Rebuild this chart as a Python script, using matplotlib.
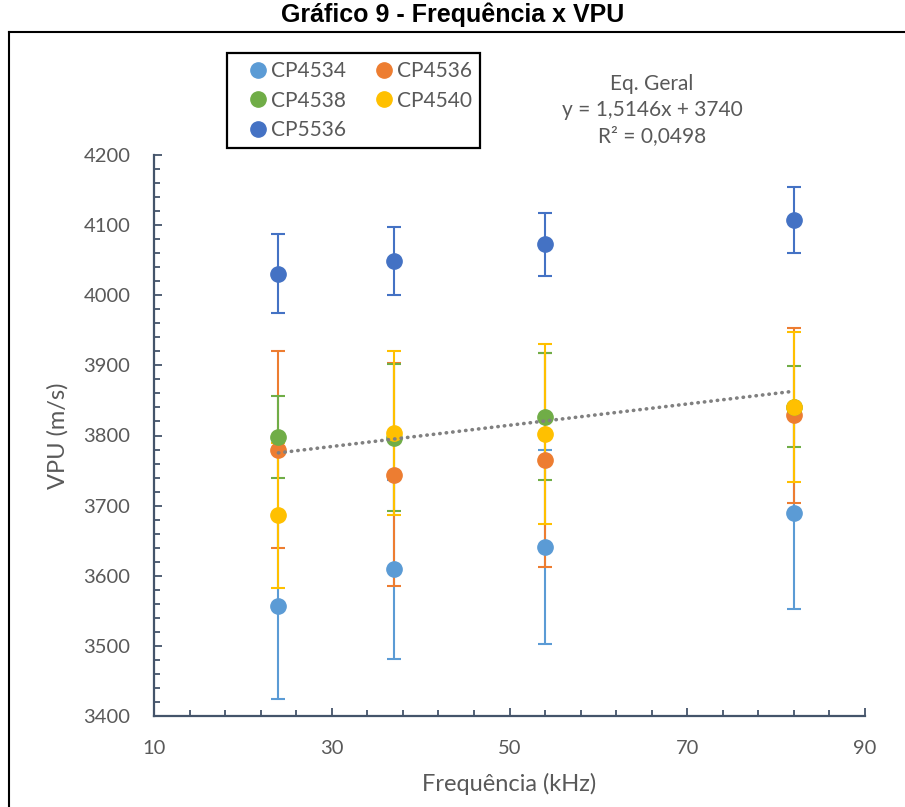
import numpy as np
import matplotlib
matplotlib.use("Agg")
import matplotlib.pyplot as plt
import matplotlib.ticker as ticker
from matplotlib.lines import Line2D

# dados
freq = [24, 37, 54, 82]
series_names = ["CP4534", "CP4536", "CP4538", "CP4540", "CP5536"]
cp4534 = [3557, 3609, 3641, 3689]
cp4536 = [3780, 3744, 3765, 3829]
cp4538 = [3798, 3797, 3827, 3841]
cp4540 = [3686, 3804, 3802, 3841]
cp5536 = [4031, 4049, 4073, 4107]
err4534 = [133, 128, 139, 136]
err4536 = [140, 159, 153, 125]
err4538 = [58, 105, 90, 58]
err4540 = [103, 117, 128, 107]
err5536 = [57, 49, 45, 47]
colors = ["#5B9BD5", "#ED7D31", "#70AD47", "#FFC000", "#4472C4"]

values = [cp4534, cp4536, cp4538, cp4540, cp5536]
errors = [err4534, err4536, err4538, err4540, err5536]

plt.rcParams['font.family'] = ['Lato', 'DejaVu Sans']
txt_color = "#595959"
axis_color = "#44546A"

fig = plt.figure(figsize=(9.05, 8.07), dpi=100)
ax = fig.add_axes([154 / 905, 1 - 716 / 807, 711 / 905, 561 / 807])

handles = {}
for name, vals, errs, col in zip(series_names, values, errors, colors):
    ax.errorbar(freq, vals, yerr=errs, fmt='none', ecolor=col, elinewidth=1.5,
                capsize=5, capthick=1.5, zorder=2)
    h = ax.plot(freq, vals, 'o', color=col, markersize=11, zorder=3, label=name)[0]
    handles[name] = h

# linha de tendência geral (todos os pontos)
all_x = np.tile(freq, len(values))
all_y = np.concatenate(values)
a, b = np.polyfit(all_x, all_y, 1)
xt = np.array([min(freq), max(freq)])
ax.plot(xt, a * xt + b, color="#808080", lw=2.6, linestyle=(0, (0.1, 1.7)),
        dash_capstyle='round', zorder=4)

ax.set_xlim(10, 90)
ax.set_ylim(3400, 4200)
ax.xaxis.set_major_locator(ticker.FixedLocator(np.arange(10, 91, 20)))
ax.xaxis.set_minor_locator(ticker.FixedLocator(np.arange(10, 91, 4)))
ax.yaxis.set_major_locator(ticker.MultipleLocator(100))
ax.yaxis.set_minor_locator(ticker.MultipleLocator(20))
for s in ['top', 'right']:
    ax.spines[s].set_visible(False)
for s in ['left', 'bottom']:
    ax.spines[s].set_color(axis_color)
    ax.spines[s].set_linewidth(1.6)
ax.tick_params(which='major', direction='in', length=6, width=1.3, color=axis_color,
               labelsize=14.5, labelcolor=txt_color, pad=17)
ax.tick_params(which='minor', direction='in', length=4, width=1.3, color=axis_color)

ax.set_xlabel("Frequência (kHz)", fontsize=17, color=txt_color, labelpad=12)
ax.set_ylabel("VPU (m/s)", fontsize=17, color=txt_color, labelpad=11)

fig.text(652 / 905, 1 - 110 / 807, "Eq. Geral\ny = 1,5146x + 3740\nR² = 0,0498",
         ha='center', va='center', fontsize=15, color=txt_color, linespacing=1.35)

fig.text(453 / 905, 1 - 15 / 807, "Gráfico 9 - Frequência x VPU", ha='center', va='center',
         fontsize=18, fontweight='bold', family=['Liberation Sans', 'DejaVu Sans'])

order = ["CP4534", "CP4538", "CP5536", "CP4536", "CP4540"]
leg = fig.legend([handles[n] for n in order], order, ncol=2, loc='upper left',
                 bbox_to_anchor=(227 / 905, 1 - 53 / 807), borderaxespad=0,
                 fontsize=15, frameon=True, fancybox=False, edgecolor='black',
                 framealpha=1, handlelength=2.2, handletextpad=-0.5,
                 columnspacing=0.75, labelspacing=0.45, borderpad=0.4)
leg.get_frame().set_linewidth(1.6)
for t in leg.get_texts():
    t.set_color(txt_color)

# moldura externa
fig.add_artist(Line2D([9 / 905, 1.0], [1 - 32 / 807] * 2, color='black', lw=1.5))
fig.add_artist(Line2D([9 / 905] * 2, [0, 1 - 32 / 807], color='black', lw=1.5))

fig.savefig("out.png", dpi=100)
